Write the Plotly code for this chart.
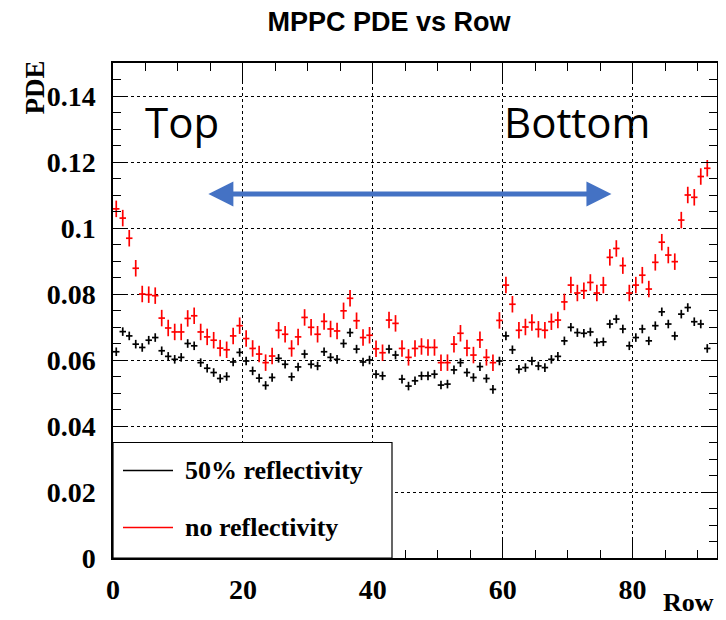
import plotly.graph_objects as go

# ---- data ----
rows = list(range(92))  # row bins; points drawn at bin centres
pde_50 = [0.0625, 0.0686, 0.0673, 0.0648, 0.0638, 0.0660, 0.0668, 0.0628, 0.0611, 0.0602,
          0.0608, 0.0650, 0.0643, 0.0592, 0.0575, 0.0562, 0.0544, 0.0550, 0.0594, 0.0623,
          0.0597, 0.0567, 0.0545, 0.0523, 0.0547, 0.0605, 0.0587, 0.0549, 0.0579, 0.0618,
          0.0587, 0.0582, 0.0625, 0.0608, 0.0602, 0.0650, 0.0683, 0.0633, 0.0594, 0.0600,
          0.0557, 0.0552, 0.0633, 0.0615, 0.0542, 0.0521, 0.0537, 0.0552, 0.0552, 0.0557,
          0.0524, 0.0527, 0.0570, 0.0592, 0.0562, 0.0547, 0.0580, 0.0544, 0.0511, 0.0597,
          0.0673, 0.0631, 0.0572, 0.0577, 0.0597, 0.0582, 0.0577, 0.0602, 0.0611, 0.0658,
          0.0699, 0.0683, 0.0681, 0.0685, 0.0653, 0.0655, 0.0709, 0.0724, 0.0694, 0.0643,
          0.0668, 0.0694, 0.0658, 0.0704, 0.0746, 0.0709, 0.0673, 0.0739, 0.0759, 0.0716,
          0.0709, 0.0635]
pde_none = [0.1058, 0.1030, 0.0969, 0.0878, 0.0800, 0.0798, 0.0795, 0.0727, 0.0697, 0.0685,
            0.0685, 0.0726, 0.0734, 0.0685, 0.0670, 0.0660, 0.0636, 0.0631, 0.0673, 0.0704,
            0.0665, 0.0635, 0.0618, 0.0592, 0.0612, 0.0690, 0.0678, 0.0635, 0.0670, 0.0729,
            0.0699, 0.0678, 0.0717, 0.0694, 0.0688, 0.0749, 0.0787, 0.0719, 0.0668, 0.0675,
            0.0634, 0.0622, 0.0721, 0.0711, 0.0635, 0.0608, 0.0635, 0.0641, 0.0638, 0.0638,
            0.0592, 0.0592, 0.0648, 0.0681, 0.0636, 0.0615, 0.0661, 0.0608, 0.0592, 0.0720,
            0.0827, 0.0769, 0.0690, 0.0700, 0.0714, 0.0693, 0.0690, 0.0716, 0.0721, 0.0776,
            0.0827, 0.0803, 0.0810, 0.0835, 0.0803, 0.0827, 0.0911, 0.0938, 0.0886, 0.0803,
            0.0827, 0.0857, 0.0815, 0.0896, 0.0957, 0.0918, 0.0898, 0.1024, 0.1100, 0.1093,
            0.1156, 0.1181]
err_50 = 0.0013
err_none = 0.0025
bin_half_width = 0.5

series_names = ["50% reflectivity", "no reflectivity"]
series_colors = ["#000000", "#ff0000"]

x_tickvals = [0, 20, 40, 60, 80]
x_ticktext = ["0", "20", "40", "60", "80"]
y_tickvals = [0, 0.02, 0.04, 0.06, 0.08, 0.10, 0.12, 0.14]
y_ticktext = ["0", "0.02", "0.04", "0.06", "0.08", "0.1", "0.12", "0.14"]

x_centres = [r + bin_half_width for r in rows]

# page has an 8px body margin; figure is sized so its paper fills the visible window
W, H = 718, 612
OFF = 8

fig = go.Figure()
for ys, err, name, col in [(pde_50, err_50, series_names[0], series_colors[0]),
                           (pde_none, err_none, series_names[1], series_colors[1])]:
    fig.add_trace(go.Scatter(
        x=x_centres, y=ys, mode="markers", name=name,
        marker=dict(size=1, color=col),
        error_x=dict(type="constant", value=bin_half_width, color=col, thickness=1.7, width=0),
        error_y=dict(type="constant", value=err, color=col, thickness=1.7, width=0),
        showlegend=False,
    ))

serif = "Liberation Serif"
tickfont = dict(family=serif, size=28, color="black", weight="bold")

fig.update_layout(
    width=W, height=H,
    margin=dict(l=113-OFF, r=9, t=63-OFF, b=62),
    paper_bgcolor="white", plot_bgcolor="white",
    title=dict(text="<b>MPPC PDE vs Row</b>", x=(389-OFF)/W, xref="container", xanchor="center",
               y=1-(22-OFF)/H, yref="container", yanchor="middle",
               font=dict(family="Liberation Sans", size=27, color="black")),
    xaxis=dict(range=[0, 93], tickvals=x_tickvals, ticktext=x_ticktext,
               showline=True, linecolor="black", linewidth=1.5, mirror="allticks",
               ticks="inside", ticklen=18, tickwidth=1.2, tickcolor="black",
               minor=dict(dtick=5, tick0=0, ticks="inside", ticklen=8, tickwidth=1.2, tickcolor="black", showgrid=False),
               showgrid=True, gridcolor="black", griddash="dot", gridwidth=1,
               zeroline=False, tickfont=tickfont, ticklabelstandoff=6, automargin=False),
    yaxis=dict(range=[0, 0.15], tickvals=y_tickvals, ticktext=y_ticktext,
               showline=True, linecolor="black", linewidth=1.5, mirror="allticks",
               ticks="inside", ticklen=13, tickwidth=1.2, tickcolor="black",
               minor=dict(dtick=0.005, tick0=0, ticks="inside", ticklen=8, tickwidth=1.2, tickcolor="black", showgrid=False),
               showgrid=True, gridcolor="black", griddash="dot", gridwidth=1,
               zeroline=False, tickfont=tickfont, ticklabelstandoff=10, automargin=False),
)

# white boxes behind the "Top"/"Bottom" labels (cover gridlines)
fig.add_shape(type="rect", xref="paper", yref="paper", x0=0.003, x1=(313-113)/604,
              y0=(558.5-160)/495, y1=0.997, fillcolor="white", line_width=0, layer="between")
fig.add_shape(type="rect", xref="paper", yref="paper", x0=(480-113)/604, x1=(690-113)/604,
              y0=(558.5-160)/495, y1=0.997, fillcolor="white", line_width=0, layer="between")

fig.add_annotation(text="Top", xref="paper", yref="paper", x=(182-113)/604, y=(558.5-122)/495,
                   xanchor="center", yanchor="middle", showarrow=False,
                   font=dict(family="Open Sans", size=42, color="black"))
fig.add_annotation(text="Bottom", xref="paper", yref="paper", x=(577-113)/604, y=(558.5-122)/495,
                   xanchor="center", yanchor="middle", showarrow=False,
                   font=dict(family="Open Sans", size=42, color="black"))

# double-headed arrow
fig.add_annotation(x=76.75, y=0.1103, ax=14.45, ay=0.1103, xref="x", yref="y", axref="x", ayref="y",
                   text="", showarrow=True, arrowside="end+start", arrowhead=2, arrowsize=1.0,
                   arrowwidth=5, arrowcolor="#4472C4", standoff=0, startstandoff=0)

# legend box
lx1 = (392-113)/604
ly1 = (558.5-443)/495
fig.add_shape(type="rect", xref="paper", yref="paper", x0=0, x1=lx1, y0=0, y1=ly1,
              fillcolor="white", line=dict(color="black", width=1.2), layer="above")
for name, col, ypx in [(series_names[0], series_colors[0], 471), (series_names[1], series_colors[1], 528)]:
    yp = (558.5-ypx)/495
    fig.add_shape(type="line", xref="paper", yref="paper", x0=(123-113)/604, x1=(173-113)/604,
                  y0=yp, y1=yp, line=dict(color=col, width=1.3), layer="above")
    fig.add_annotation(text=name, xref="paper", yref="paper", x=(183-113)/604, y=yp,
                       xanchor="left", yanchor="middle", showarrow=False,
                       font=dict(family=serif, size=26, color="black", weight="bold"))

# axis titles
fig.add_annotation(text="Row", xref="paper", yref="paper", x=(716-113)/604, y=-(603-558.5)/495,
                   xanchor="right", yanchor="middle", showarrow=False,
                   font=dict(family=serif, size=26, color="black", weight="bold"))
fig.add_annotation(text="PDE", xref="paper", yref="paper", x=(34-113)/604, y=(558.5-88)/495,
                   xanchor="center", yanchor="middle", showarrow=False, textangle=-90,
                   font=dict(family=serif, size=27, color="black", weight="bold"))

fig.write_html("out.html")
